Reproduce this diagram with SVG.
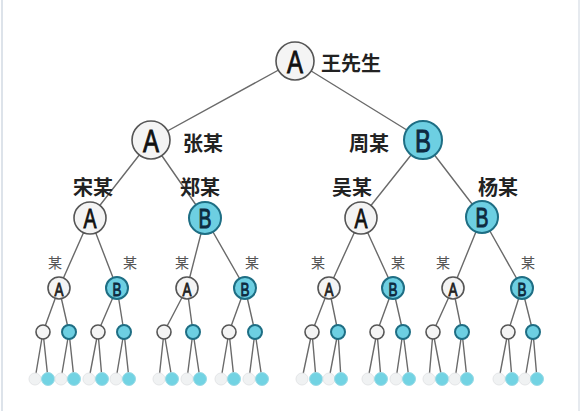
<svg xmlns="http://www.w3.org/2000/svg" width="583" height="411" viewBox="0 0 583 411">
<style>
.e{stroke:#6a6a6a;stroke-width:1.4;fill:none}
.w{fill:#f4f4f4;stroke:#555;stroke-width:1.6}
.c{fill:#6dcfe2;stroke:#1e6e84;stroke-width:2}
.lw{fill:#f0f2f3;stroke:#e4e6e8;stroke-width:1}
.lc{fill:#72d3e3;stroke:#9adbe6;stroke-width:1}
.la{font-family:"Liberation Sans","DejaVu Sans",sans-serif;text-anchor:middle;dominant-baseline:central;stroke-width:0.9}
.lab{font-family:"Noto Sans CJK SC",sans-serif;font-weight:bold;font-size:20px;fill:#222;dominant-baseline:central}
.sm{font-family:"Noto Sans CJK SC",sans-serif;font-size:14px;fill:#555;text-anchor:middle;dominant-baseline:central}
</style>
<rect width="583" height="411" fill="#fff"/>
<line x1="2" y1="0" x2="2" y2="411" stroke="#dde3ea" stroke-width="2"/>
<line x1="579" y1="0" x2="579" y2="411" stroke="#e6eaef" stroke-width="2"/>
<g id="connectors">
<path class="e" d="M295 61L151 140M295 61L423 140
M151 140L90 218M151 140L205 218M423 140L361 218M423 140L482 217
M90 218L59 288M90 218L117 288M205 218L187 288M205 218L245 288
M361 218L329 288M361 218L393 288M482 217L453 288M482 217L522 288
M59 288L43 332M59 288L69 332M117 288L98 332M117 288L124 332
M187 288L164 332M187 288L193 332M245 288L229 332M245 288L255 332
M329 288L312 332M329 288L338 332M393 288L377 332M393 288L403 332
M453 288L433 332M453 288L462 332M522 288L508 332M522 288L533 332
M43 332L35 379M43 332L48 379M69 332L61 379M69 332L74 379
M98 332L89 379M98 332L102 379M124 332L116 379M124 332L129 379
M164 332L159 379M164 332L172 379M193 332L187 379M193 332L200 379
M229 332L221 379M229 332L234 379M255 332L249 379M255 332L262 379
M312 332L302 379M312 332L316 379M338 332L329 379M338 332L341 379
M377 332L368 379M377 332L381 379M403 332L396 379M403 332L409 379
M433 332L429 379M433 332L442 379M462 332L455 379M462 332L467 379
M508 332L499 379M508 332L512 379M533 332L525 379M533 332L537 379"/>
</g>
<g id="n-root"><circle class="w" cx="295" cy="61" r="19"/><text class="la" x="295" y="62" font-size="32" fill="#111" stroke="#111" textLength="16" lengthAdjust="spacingAndGlyphs">A</text><text class="lab" x="321" y="62">王先生</text></g>
<g id="n-zhang"><circle class="w" cx="151" cy="140" r="19"/><text class="la" x="151" y="141" font-size="31" fill="#111" stroke="#111" textLength="16" lengthAdjust="spacingAndGlyphs">A</text><text class="lab" x="183" y="142">张某</text></g>
<g id="n-zhou"><circle class="c" cx="423" cy="140" r="19"/><text class="la" x="423" y="141" font-size="31" fill="#0d2a40" stroke="#0d2a40" textLength="16" lengthAdjust="spacingAndGlyphs">B</text><text class="lab" x="349" y="142">周某</text></g>
<g id="n-song"><circle class="w" cx="90" cy="218" r="16"/><text class="la" x="90" y="219" font-size="27" fill="#111" stroke="#111" textLength="13" lengthAdjust="spacingAndGlyphs">A</text><text class="lab" x="73" y="186">宋某</text></g>
<g id="n-zheng"><circle class="c" cx="205" cy="218" r="16"/><text class="la" x="205" y="219" font-size="27" fill="#0d2a40" stroke="#0d2a40" textLength="13" lengthAdjust="spacingAndGlyphs">B</text><text class="lab" x="180" y="186">郑某</text></g>
<g id="n-wu"><circle class="w" cx="361" cy="218" r="16"/><text class="la" x="361" y="219" font-size="27" fill="#111" stroke="#111" textLength="13" lengthAdjust="spacingAndGlyphs">A</text><text class="lab" x="332" y="186">吴某</text></g>
<g id="n-yang"><circle class="c" cx="482" cy="217" r="16"/><text class="la" x="482" y="218" font-size="27" fill="#0d2a40" stroke="#0d2a40" textLength="13" lengthAdjust="spacingAndGlyphs">B</text><text class="lab" x="478" y="186">杨某</text></g>
<g id="n-l3">
<circle class="w" cx="59" cy="288" r="11"/><text class="la" x="59" y="289" font-size="19" fill="#222" stroke="#222" textLength="9" lengthAdjust="spacingAndGlyphs">A</text><text class="sm" x="55" y="262">某</text>
<circle class="c" cx="117" cy="288" r="11"/><text class="la" x="117" y="289" font-size="19" fill="#0d2a40" stroke="#0d2a40" textLength="9" lengthAdjust="spacingAndGlyphs">B</text><text class="sm" x="130" y="262">某</text>
<circle class="w" cx="187" cy="288" r="11"/><text class="la" x="187" y="289" font-size="19" fill="#222" stroke="#222" textLength="9" lengthAdjust="spacingAndGlyphs">A</text><text class="sm" x="182" y="262">某</text>
<circle class="c" cx="245" cy="288" r="11"/><text class="la" x="245" y="289" font-size="19" fill="#0d2a40" stroke="#0d2a40" textLength="9" lengthAdjust="spacingAndGlyphs">B</text><text class="sm" x="252" y="262">某</text>
<circle class="w" cx="329" cy="288" r="11"/><text class="la" x="329" y="289" font-size="19" fill="#222" stroke="#222" textLength="9" lengthAdjust="spacingAndGlyphs">A</text><text class="sm" x="318" y="262">某</text>
<circle class="c" cx="393" cy="288" r="11"/><text class="la" x="393" y="289" font-size="19" fill="#0d2a40" stroke="#0d2a40" textLength="9" lengthAdjust="spacingAndGlyphs">B</text><text class="sm" x="398" y="262">某</text>
<circle class="w" cx="453" cy="288" r="11"/><text class="la" x="453" y="289" font-size="19" fill="#222" stroke="#222" textLength="9" lengthAdjust="spacingAndGlyphs">A</text><text class="sm" x="443" y="262">某</text>
<circle class="c" cx="522" cy="288" r="11"/><text class="la" x="522" y="289" font-size="19" fill="#0d2a40" stroke="#0d2a40" textLength="9" lengthAdjust="spacingAndGlyphs">B</text><text class="sm" x="528" y="262">某</text>
</g>
<g id="n-l4">
<circle class="w" cx="43" cy="332" r="7"/><circle class="c" cx="69" cy="332" r="7"/>
<circle class="w" cx="98" cy="332" r="7"/><circle class="c" cx="124" cy="332" r="7"/>
<circle class="w" cx="164" cy="332" r="7"/><circle class="c" cx="193" cy="332" r="7"/>
<circle class="w" cx="229" cy="332" r="7"/><circle class="c" cx="255" cy="332" r="7"/>
<circle class="w" cx="312" cy="332" r="7"/><circle class="c" cx="338" cy="332" r="7"/>
<circle class="w" cx="377" cy="332" r="7"/><circle class="c" cx="403" cy="332" r="7"/>
<circle class="w" cx="433" cy="332" r="7"/><circle class="c" cx="462" cy="332" r="7"/>
<circle class="w" cx="508" cy="332" r="7"/><circle class="c" cx="533" cy="332" r="7"/>
</g>
<g id="n-l5">
<circle class="lw" cx="35" cy="379" r="6"/><circle class="lc" cx="48" cy="379" r="6.5"/>
<circle class="lw" cx="61" cy="379" r="6"/><circle class="lc" cx="74" cy="379" r="6.5"/>
<circle class="lw" cx="89" cy="379" r="6"/><circle class="lc" cx="102" cy="379" r="6.5"/>
<circle class="lw" cx="116" cy="379" r="6"/><circle class="lc" cx="129" cy="379" r="6.5"/>
<circle class="lw" cx="159" cy="379" r="6"/><circle class="lc" cx="172" cy="379" r="6.5"/>
<circle class="lw" cx="187" cy="379" r="6"/><circle class="lc" cx="200" cy="379" r="6.5"/>
<circle class="lw" cx="221" cy="379" r="6"/><circle class="lc" cx="234" cy="379" r="6.5"/>
<circle class="lw" cx="249" cy="379" r="6"/><circle class="lc" cx="262" cy="379" r="6.5"/>
<circle class="lw" cx="302" cy="379" r="6"/><circle class="lc" cx="316" cy="379" r="6.5"/>
<circle class="lw" cx="329" cy="379" r="6"/><circle class="lc" cx="341" cy="379" r="6.5"/>
<circle class="lw" cx="368" cy="379" r="6"/><circle class="lc" cx="381" cy="379" r="6.5"/>
<circle class="lw" cx="396" cy="379" r="6"/><circle class="lc" cx="409" cy="379" r="6.5"/>
<circle class="lw" cx="429" cy="379" r="6"/><circle class="lc" cx="442" cy="379" r="6.5"/>
<circle class="lw" cx="455" cy="379" r="6"/><circle class="lc" cx="467" cy="379" r="6.5"/>
<circle class="lw" cx="499" cy="379" r="6"/><circle class="lc" cx="512" cy="379" r="6.5"/>
<circle class="lw" cx="525" cy="379" r="6"/><circle class="lc" cx="537" cy="379" r="6.5"/>
</g>
</svg>
